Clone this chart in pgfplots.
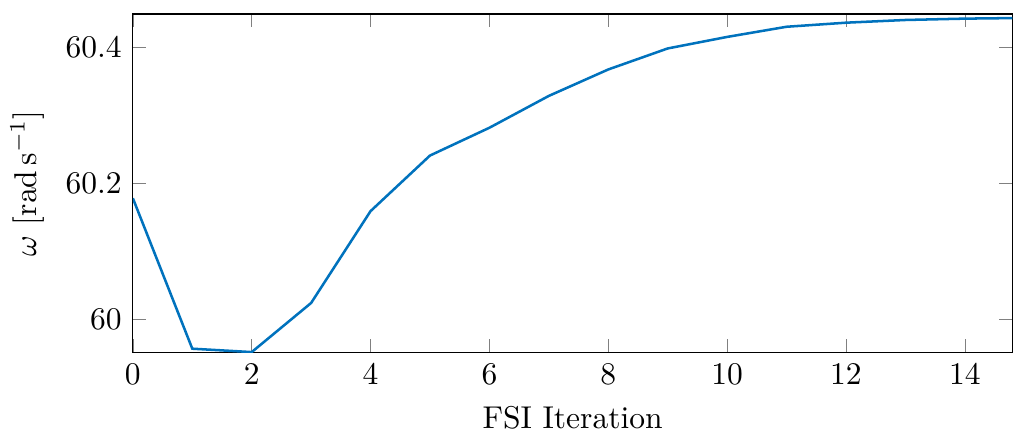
\documentclass[border=0pt]{standalone}
\usepackage{pgfplots}
\pgfplotsset{compat=1.18}
\usepackage{siunitx}
\definecolor{mblue}{RGB}{0,114,189}
\begin{document}
\begin{tikzpicture}
\begin{axis}[
  scale only axis,
  width=279pt, height=107.5pt,
  xmin=0, xmax=14.8,
  ymin=59.95, ymax=60.45,
  xtick={0,2,...,14},
  ytick={60,60.2,60.4},
  yticklabel style={/pgf/number format/fixed,/pgf/number format/precision=1},
  xlabel={FSI Iteration},
  ylabel={$\omega$ [\si{\radian\per\second}]},
]
\addplot[mblue, thick] coordinates {
(0,60.178) (1,59.956) (2,59.951) (3,60.0235) (4,60.159) (5,60.241) (6,60.282)
(7,60.329) (8,60.368) (9,60.399) (10,60.416) (11,60.431) (12,60.437)
(13,60.441) (14,60.443) (15,60.444)
};
\coordinate (tr) at (rel axis cs:1,1);
\coordinate (bl) at (rel axis cs:0,0);
\end{axis}
\path (tr) ++(0,4.4pt) coordinate (a);
\path (bl) ++(0,-27pt) coordinate (b);
\end{tikzpicture}
\end{document}
